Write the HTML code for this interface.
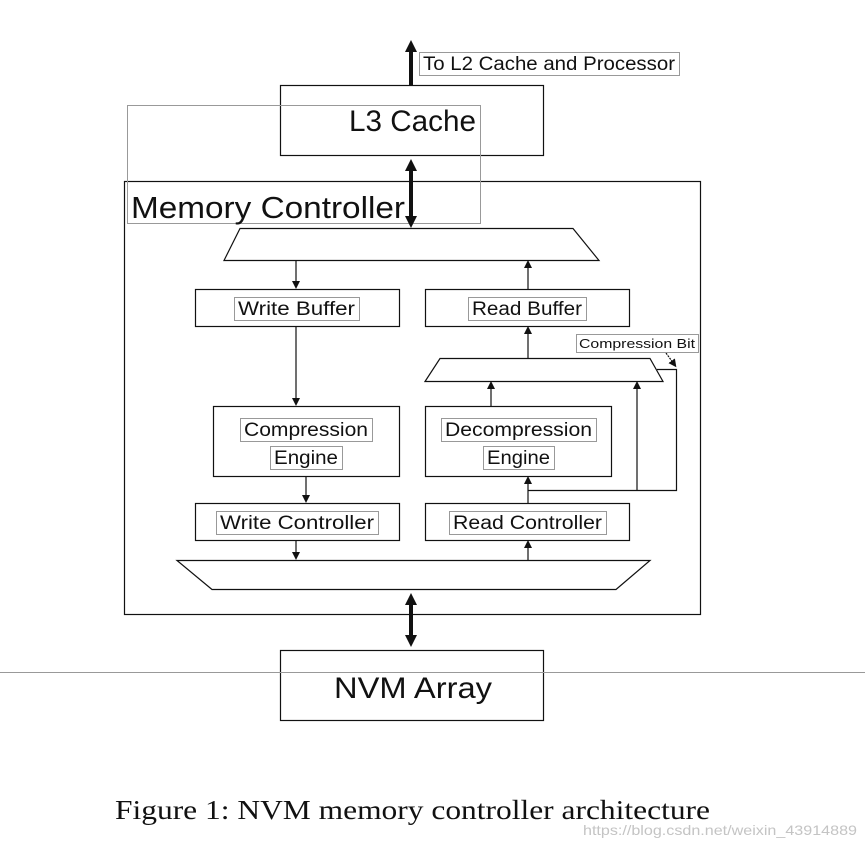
<!DOCTYPE html>
<html><head><meta charset="utf-8"><style>
html,body{margin:0;padding:0;background:#fff;}
svg{display:block;}
text{font-family:"Liberation Sans",sans-serif;fill:#111;}
</style></head><body>
<svg width="865" height="848" viewBox="0 0 865 848" xmlns="http://www.w3.org/2000/svg">
<defs>
<marker id="a" markerWidth="8" markerHeight="8" refX="4" refY="4" orient="auto-start-reverse" markerUnits="userSpaceOnUse"><path d="M0,0 L8,4 L0,8 z" fill="#111"/></marker>
<marker id="b" markerWidth="14" markerHeight="12" refX="8" refY="6" orient="auto-start-reverse" markerUnits="userSpaceOnUse"><path d="M0,0 L12,6 L0,12 z" fill="#111"/></marker>
</defs>
<g fill="none" stroke="#111" stroke-width="1.2">
<rect x="280.5" y="85.5" width="263" height="70"/>
<rect x="124.5" y="181.5" width="576" height="433"/>
<polygon points="240,228.5 573,228.5 599,260.5 224,260.5"/>
<rect x="195.5" y="289.5" width="204" height="37"/>
<rect x="425.5" y="289.5" width="204" height="37"/>
<polygon points="440,358.5 650,358.5 663,381.5 425,381.5"/>
<rect x="213.5" y="406.5" width="186" height="70"/>
<rect x="425.5" y="406.5" width="186" height="70"/>
<rect x="195.5" y="503.5" width="204" height="37"/>
<rect x="425.5" y="503.5" width="204" height="37"/>
<polygon points="177,560.5 650,560.5 616,589.5 212,589.5"/>
<rect x="280.5" y="650.5" width="263" height="70"/>
</g>
<rect x="127.5" y="105.5" width="353" height="118" fill="none" stroke="#999" stroke-width="1"/>
<line x1="0" y1="672.5" x2="865" y2="672.5" stroke="#999" stroke-width="1"/>
<g stroke="#111" stroke-width="4">
<line x1="411" y1="85" x2="411" y2="44" marker-end="url(#b)"/>
<line x1="411" y1="163" x2="411" y2="224" marker-start="url(#b)" marker-end="url(#b)"/>
<line x1="411" y1="597" x2="411" y2="643" marker-start="url(#b)" marker-end="url(#b)"/>
</g>
<g stroke="#111" stroke-width="1.2" fill="none">
<line x1="296" y1="260" x2="296" y2="285" marker-end="url(#a)"/>
<line x1="528" y1="289" x2="528" y2="264" marker-end="url(#a)"/>
<line x1="296" y1="326" x2="296" y2="402" marker-end="url(#a)"/>
<line x1="528" y1="358" x2="528" y2="330" marker-end="url(#a)"/>
<line x1="491" y1="406" x2="491" y2="385" marker-end="url(#a)"/>
<line x1="637" y1="490" x2="637" y2="385" marker-end="url(#a)"/>
<polyline points="528,490.5 676.5,490.5 676.5,369.5 657,369.5"/>
<line x1="528" y1="503" x2="528" y2="480" marker-end="url(#a)"/>
<line x1="306" y1="476" x2="306" y2="499" marker-end="url(#a)"/>
<line x1="296" y1="540" x2="296" y2="556" marker-end="url(#a)"/>
<line x1="528" y1="560" x2="528" y2="544" marker-end="url(#a)"/>
<line x1="666" y1="353" x2="674" y2="364" stroke-dasharray="2,1" marker-end="url(#a)"/>
</g>
<g fill="#fff" stroke="#999" stroke-width="1">
<rect x="419.5" y="52.5" width="260" height="23"/>
<rect x="576.5" y="334.5" width="122" height="18"/>
<rect x="234.5" y="297.5" width="125" height="23"/>
<rect x="468.5" y="297.5" width="118" height="23"/>
<rect x="240.5" y="418.5" width="132" height="23"/>
<rect x="270.5" y="446.5" width="72" height="23"/>
<rect x="441.5" y="418.5" width="155" height="23"/>
<rect x="483.5" y="446.5" width="71" height="23"/>
<rect x="216.5" y="511.5" width="162" height="23"/>
<rect x="449.5" y="511.5" width="157" height="23"/>
</g>
<g font-size="19">
<text x="423" y="70" textLength="252" lengthAdjust="spacingAndGlyphs">To L2 Cache and Processor</text>
<text x="238" y="315" textLength="117" lengthAdjust="spacingAndGlyphs">Write Buffer</text>
<text x="472" y="315" textLength="110" lengthAdjust="spacingAndGlyphs">Read Buffer</text>
<text x="244" y="436" textLength="124" lengthAdjust="spacingAndGlyphs">Compression</text>
<text x="274" y="464" textLength="64" lengthAdjust="spacingAndGlyphs">Engine</text>
<text x="445" y="436" textLength="147" lengthAdjust="spacingAndGlyphs">Decompression</text>
<text x="487" y="464" textLength="63" lengthAdjust="spacingAndGlyphs">Engine</text>
<text x="220" y="529" textLength="154" lengthAdjust="spacingAndGlyphs">Write Controller</text>
<text x="453" y="529" textLength="149" lengthAdjust="spacingAndGlyphs">Read Controller</text>
</g>
<text x="579" y="348" font-size="13" textLength="116" lengthAdjust="spacingAndGlyphs">Compression Bit</text>
<text x="349" y="131" font-size="30" textLength="127" lengthAdjust="spacingAndGlyphs">L3 Cache</text>
<text x="131" y="218" font-size="31" textLength="274" lengthAdjust="spacingAndGlyphs">Memory Controller</text>
<text x="334" y="698" font-size="30" textLength="158" lengthAdjust="spacingAndGlyphs">NVM Array</text>
<text x="115" y="819" font-size="27" style="font-family:'Liberation Serif',serif" textLength="595" lengthAdjust="spacingAndGlyphs">Figure 1: NVM memory controller architecture</text>
<text x="583" y="835" font-size="14" fill="#bbb" style="fill:#c4c4c4" textLength="274" lengthAdjust="spacingAndGlyphs">https://blog.csdn.net/weixin_43914889</text>
</svg>
</body></html>
